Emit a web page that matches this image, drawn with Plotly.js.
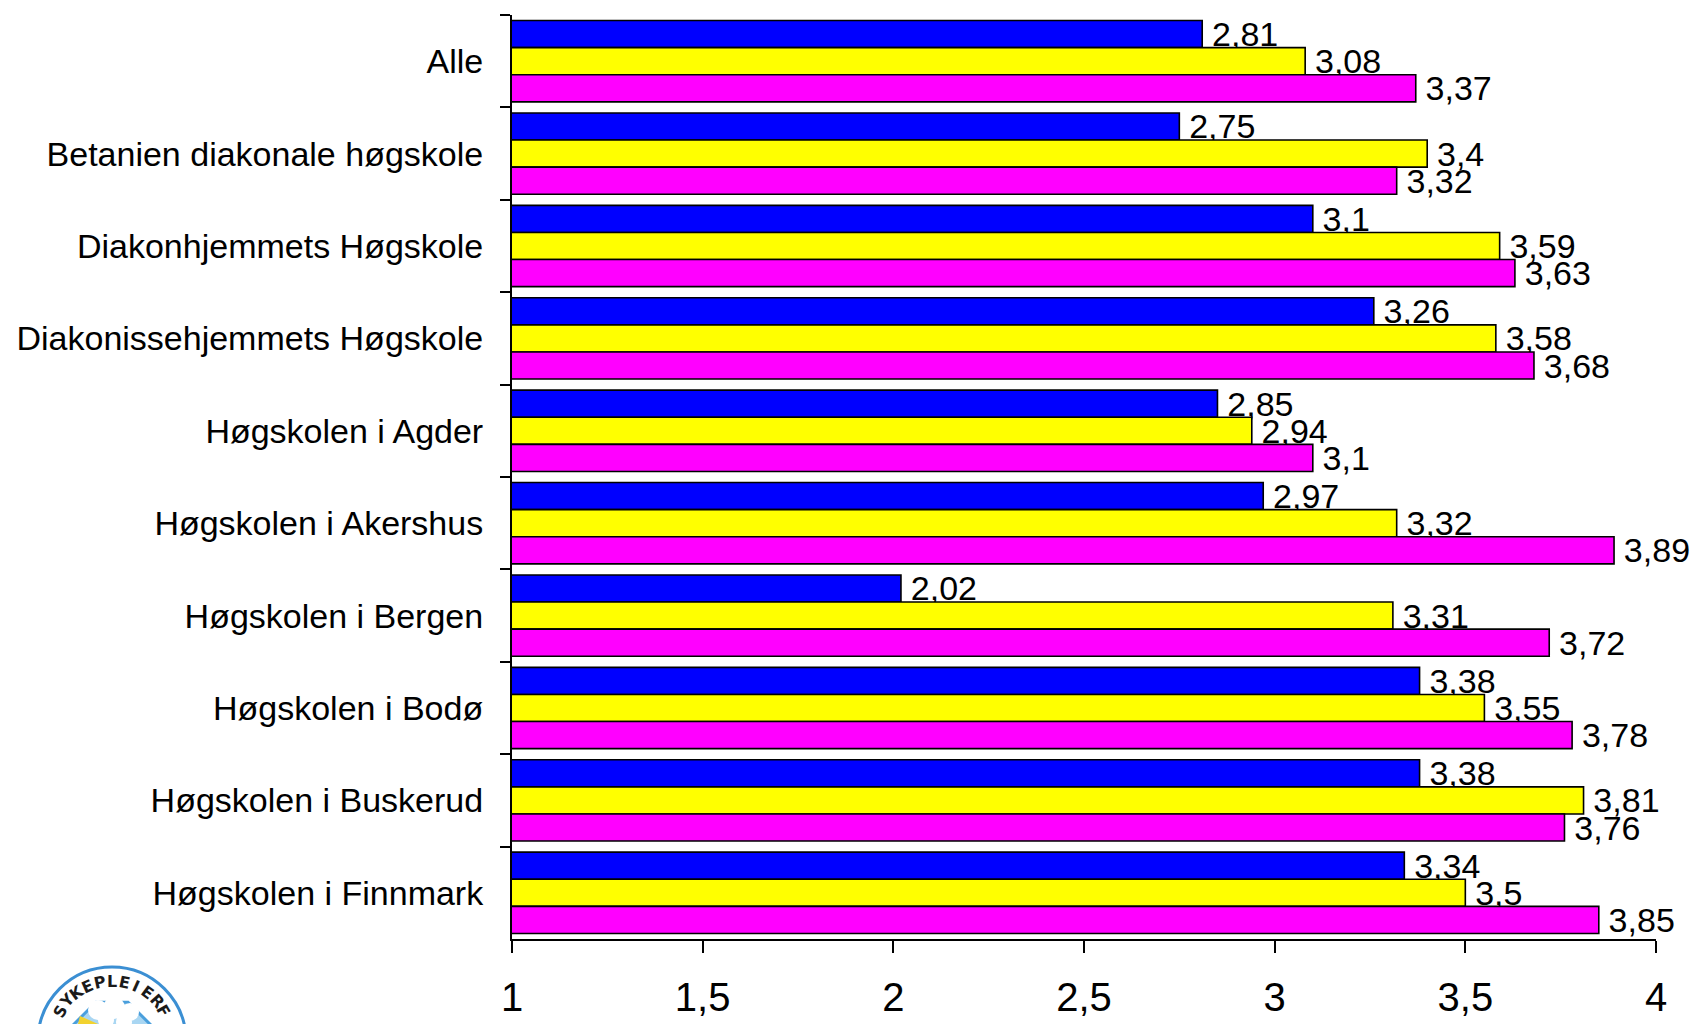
<!DOCTYPE html>
<html>
<head>
<meta charset="utf-8">
<script src="https://cdn.plot.ly/plotly-3.0.1.min.js"></script>
<style>html,body{margin:0;padding:0;background:#fff;}#chart{width:1692px;height:1024px;}</style>
</head>
<body>
<div id="chart"></div>
<script>
const categories = ["Alle","Betanien diakonale høgskole","Diakonhjemmets Høgskole","Diakonissehjemmets Høgskole","Høgskolen i Agder","Høgskolen i Akershus","Høgskolen i Bergen","Høgskolen i Bodø","Høgskolen i Buskerud","Høgskolen i Finnmark"];
const series1 = [2.81,2.75,3.1,3.26,2.85,2.97,2.02,3.38,3.38,3.34];
const series2 = [3.08,3.4,3.59,3.58,2.94,3.32,3.31,3.55,3.81,3.5];
const series3 = [3.37,3.32,3.63,3.68,3.1,3.89,3.72,3.78,3.76,3.85];
const seriesNames = ["Serie 1","Serie 2","Serie 3"];
const xTickVals = [1,1.5,2,2.5,3,3.5,4];
const logoLetters = ["S","Y","K","E","P","L","E","I","E","R","F"];

const colors = ["#0000FF","#FFFF00","#FF00FF"];
const fmt = v => String(v).replace('.', ',');

const traces = [series1, series2, series3].map((s, i) => ({
  type: 'bar',
  orientation: 'h',
  name: seriesNames[i],
  y: categories,
  x: s,
  text: s.map(fmt),
  texttemplate: '\u2009%{text}',
  textposition: 'outside',
  constraintext: 'none',
  cliponaxis: false,
  textfont: {family: 'Liberation Sans, Arial, sans-serif', size: 34, color: '#000'},
  marker: {color: colors[i], line: {color: '#000', width: 1.6}},
  hoverinfo: 'skip'
}));

// logo helpers (pixel -> paper)
const L = 512, R = 1656, T = 15, B = 939;
const px = x => (x - L) / (R - L);
const py = y => (B - y) / (B - T);
const cx = 112, cy = 1041;
const shapes = [];
shapes.push({type:'circle', xref:'paper', yref:'paper', x0:px(cx-74), x1:px(cx+74), y0:py(cy+74), y1:py(cy-74), line:{color:'#3b8fd3', width:3}, fillcolor:'#ffffff', layer:'above'});
let oct = '';
for (let k = 0; k < 8; k++) {
  const a = (22.5 + 45*k) * Math.PI/180;
  const x = cx + 42*Math.sin(a), y = cy - 42*Math.cos(a);
  oct += (k === 0 ? 'M' : 'L') + px(x) + ',' + py(y) + ' ';
}
oct += 'Z';
shapes.push({type:'path', xref:'paper', yref:'paper', path:oct, line:{color:'#4a9fdc', width:3}, fillcolor:'#a9d6f2', layer:'above'});
[[98,1010,10],[114,1008,11],[130,1012,9],[106,1020,8],[124,1022,8]].forEach(c => {
  shapes.push({type:'circle', xref:'paper', yref:'paper', x0:px(c[0]-c[2]), x1:px(c[0]+c[2]), y0:py(c[1]+c[2]), y1:py(c[1]-c[2]), line:{width:0}, fillcolor:'#ffffff', layer:'above'});
});
shapes.push({type:'path', xref:'paper', yref:'paper', path:'M'+px(78)+','+py(1024)+' L'+px(80)+','+py(1016)+' L'+px(98)+','+py(1024)+' Z', line:{width:0}, fillcolor:'#f2d22e', layer:'above'});

const annotations = logoLetters.map((ch, k) => {
  const th = -60 + 12*k;
  const a = th * Math.PI/180;
  const r = 60;
  return {xref:'paper', yref:'paper', x:px(cx + r*Math.sin(a)), y:py(cy - r*Math.cos(a)), text:'<b>'+ch+'</b>', showarrow:false, textangle:th, font:{family:'DejaVu Sans, sans-serif', size:16, color:'#1a1a1a'}, xanchor:'center', yanchor:'middle'};
});

const layout = {
  width: 1692, height: 1024,
  margin: {l: L, r: 1692 - R, t: T, b: 1024 - B, pad: 0},
  paper_bgcolor: '#fff', plot_bgcolor: '#fff',
  separators: ', ',
  showlegend: false,
  barmode: 'group',
  bargap: 0.12,
  bargroupgap: 0,
  font: {family: 'Liberation Sans, Arial, sans-serif', color: '#000'},
  xaxis: {
    range: [1, 4], tickvals: xTickVals, ticktext: xTickVals.map(fmt),
    showgrid: false, zeroline: false,
    showline: true, linecolor: '#000', linewidth: 2,
    ticks: 'outside', ticklen: 12, tickwidth: 2, tickcolor: '#000',
    ticklabelstandoff: 10,
    tickfont: {family: 'Liberation Sans Narrow, Arial Narrow, Liberation Sans, sans-serif', size: 40, color: '#000'}
  },
  yaxis: {
    type: 'category', autorange: 'reversed',
    showgrid: false, zeroline: false,
    showline: true, linecolor: '#000', linewidth: 2,
    ticks: 'outside', ticklen: 10, tickwidth: 2, tickcolor: '#000',
    tickson: 'boundaries',
    ticklabelstandoff: 20,
    tickfont: {family: 'Liberation Sans, Arial, sans-serif', size: 34, color: '#000'}
  },
  shapes: shapes,
  annotations: annotations
};

Plotly.newPlot('chart', traces, layout, {staticPlot: true, displayModeBar: false});
</script>
</body>
</html>
